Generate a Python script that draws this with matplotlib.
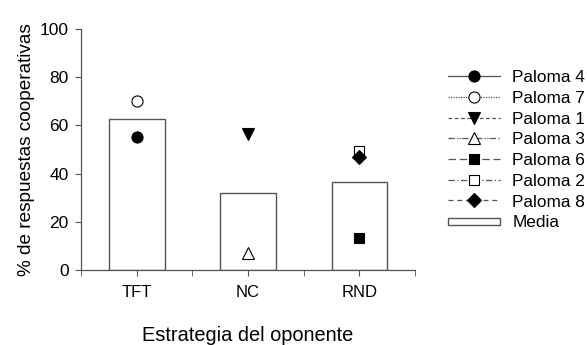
import matplotlib.pyplot as plt
import matplotlib.patches as mpatches
from matplotlib.legend_handler import HandlerPatch

plt.rcParams['font.family'] = ['Liberation Sans', 'DejaVu Sans']

# data
categories = ["TFT", "NC", "RND"]
media = [62.7, 31.8, 36.6]

palomas = ["Paloma 4", "Paloma 7", "Paloma 1", "Paloma 3", "Paloma 6", "Paloma 2", "Paloma 8"]
paloma_cat = ["TFT", "TFT", "NC", "NC", "RND", "RND", "RND"]
paloma_val = [55.0, 70.2, 56.5, 7.3, 13.2, 49.5, 47.0]

# marker styles per pigeon: marker, face, linestyle
markers = ["o", "o", "v", "^", "s", "s", "D"]
faces = ["black", "white", "black", "white", "black", "white", "black"]
styles = ["-", (0, (1, 1)), (0, (3, 2)), (0, (5, 2, 1, 1, 1, 1)), (0, (6, 3)), (0, (5, 2, 1, 2)), (0, (4, 3))]
sizes = [8, 8, 8, 8, 7, 7, 7.5]

fig = plt.figure(figsize=(5.87, 3.45), dpi=100)
ax = fig.add_axes([0.138, 0.217, 0.569, 0.699])

xpos = {c: i for i, c in enumerate(categories)}
ax.bar(range(len(categories)), media, width=0.5, color="white", edgecolor="#555555",
       linewidth=1.0, label="Media", zorder=1)

handles = []
for name, c, v, m, f, ls, s in zip(palomas, paloma_cat, paloma_val, markers, faces, styles, sizes):
    ax.plot([xpos[c]], [v], marker=m, markersize=s, markerfacecolor=f,
            markeredgecolor="black", markeredgewidth=0.8, linestyle="none", zorder=3)
    h, = ax.plot([], [], marker=m, markersize=s, markerfacecolor=f, markeredgecolor="black",
                 markeredgewidth=0.8, color="#555555", linestyle=ls, linewidth=0.9, label=name)
    handles.append(h)

media_patch = mpatches.Rectangle((0, 0), 1, 1, facecolor="white", edgecolor="#555555", linewidth=1.0, label="Media")
handles.append(media_patch)


def flat_rect(legend, orig_handle, xdescent, ydescent, width, height, fontsize):
    return mpatches.Rectangle((-xdescent, -ydescent + height * 0.2), width, height * 0.55)


ax.set_xlim(-0.5, 2.5)
ax.set_ylim(0, 100)
ax.set_yticks([0, 20, 40, 60, 80, 100])
ax.set_xticks(range(len(categories)))
ax.set_xticklabels(categories)
ax.set_xticks([-0.5, 0.5, 1.5, 2.5], minor=True)
ax.tick_params(axis="x", which="both", direction="out", length=4, color="#555555", pad=6.5, labelsize=12)
ax.tick_params(axis="y", direction="out", length=4, color="#555555", labelsize=12.5, pad=5)

for side in ["top", "right"]:
    ax.spines[side].set_visible(False)
for side in ["left", "bottom"]:
    ax.spines[side].set_color("#555555")
    ax.spines[side].set_linewidth(0.9)

ax.set_ylabel("% de respuestas cooperativas", fontsize=13.7, labelpad=3)
ax.set_xlabel("Estrategia del oponente", fontsize=14.4, labelpad=19)

fig.legend(handles=handles, labels=palomas + ["Media"], loc="upper left",
           bbox_to_anchor=(0.763, 0.797), frameon=False, fontsize=12.4,
           handlelength=3.0, handletextpad=0.75, labelspacing=0.33, borderpad=0,
           borderaxespad=0,
           handler_map={mpatches.Rectangle: HandlerPatch(patch_func=flat_rect)})

fig.savefig("out.png", dpi=100)
